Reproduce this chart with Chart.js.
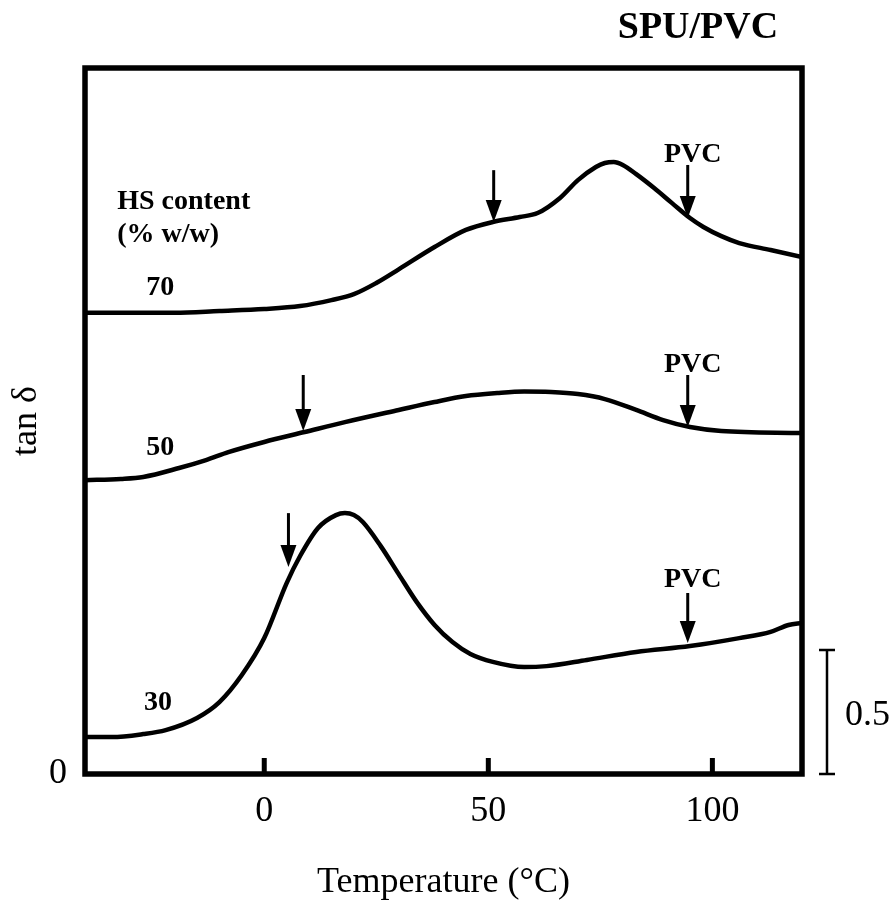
<!DOCTYPE html>
<html>
<head>
<meta charset="utf-8">
<script src="https://cdn.jsdelivr.net/npm/chart.js@4.4.1/dist/chart.umd.min.js"></script>
<style>
  html, body { margin: 0; padding: 0; background: #fff; }
</style>
</head>
<body>
<canvas id="c" width="890" height="904"></canvas>
<script>
// HS content 70 % w/w
const temps70 = [-40, -20, -10, 0, 8, 15, 20, 25, 30, 38, 45, 51, 57, 61, 66, 70, 74, 76, 78, 80, 83, 87, 91, 95, 98, 102, 106, 113, 120];
const tan70 = [1.86, 1.86, 1.867, 1.875, 1.887, 1.911, 1.935, 1.98, 2.035, 2.125, 2.194, 2.226, 2.246, 2.262, 2.323, 2.395, 2.448, 2.464, 2.468, 2.456, 2.419, 2.363, 2.302, 2.242, 2.206, 2.169, 2.141, 2.113, 2.085];

// HS content 50 % w/w
const temps50 = [-40, -32, -27, -19, -13, -8, 0, 9, 18, 30, 38, 45, 52, 58, 64, 70, 76, 83, 89, 95, 102, 120];
const tan50 = [1.185, 1.19, 1.198, 1.234, 1.266, 1.298, 1.339, 1.379, 1.419, 1.468, 1.5, 1.524, 1.536, 1.542, 1.54, 1.532, 1.512, 1.468, 1.427, 1.399, 1.383, 1.375];

// HS content 30 % w/w
const temps30 = [-40, -34, -27, -22, -15, -10, -5, 0, 5, 8, 12, 16, 18, 20, 22, 26, 30, 34, 38, 42, 46, 51, 58, 63, 72, 83, 95, 106, 113, 117, 120];
const tan30 = [0.149, 0.149, 0.161, 0.177, 0.226, 0.29, 0.399, 0.548, 0.77, 0.879, 0.992, 1.044, 1.052, 1.044, 1.016, 0.919, 0.806, 0.694, 0.601, 0.532, 0.484, 0.452, 0.431, 0.435, 0.46, 0.492, 0.516, 0.548, 0.573, 0.601, 0.609];

const xTickValues = [0, 50, 100];
const yTickValues = [0];

// transition arrows: temperature, top of shaft, tip (on the curve)
const arrowTemps = [51.2, 94.5, 8.7, 94.5, 5.4, 94.5];
const arrowTops = [2.435, 2.456, 1.609, 1.609, 1.052, 0.73];
const arrowTips = [2.226, 2.242, 1.383, 1.399, 0.835, 0.528];

// text labels inside the plot
const curveLabels = ['70', '50', '30', 'PVC', 'PVC', 'PVC'];
const curveLabelTemps = [-23.2, -23.2, -23.7, 95.6, 95.6, 95.6];
const curveLabelValues = [1.96, 1.315, 0.286, 2.496, 1.649, 0.782];
const legendLines = ['HS content', '(% w/w)'];
const legendTemp = -32.8;
const legendValues = [2.306, 2.173];

const scaleBarValues = [0, 0.5];
const scaleBarText = '0.5';
const panelTitle = 'SPU/PVC';

const serif = '"Liberation Serif", "Times New Roman", serif';
Chart.defaults.font.family = serif;
Chart.defaults.color = '#000';

function pts(xs, ys) {
    return xs.map((t, i) => ({ x: t, y: ys[i] }));
}

function curve(label, xs, ys) {
    return {
        label: label,
        data: pts(xs, ys),
        borderColor: '#000',
        borderWidth: 4.5,
        pointRadius: 0,
        fill: false,
        cubicInterpolationMode: 'monotone'
    };
}

const decor = {
    id: 'decor',
    afterDatasetsDraw(chart) {
        const ctx = chart.ctx;
        const a = chart.chartArea;
        const x = chart.scales.x;
        const y = chart.scales.y;
        ctx.save();
        ctx.strokeStyle = '#000';
        ctx.fillStyle = '#000';

        // heavy frame
        ctx.lineWidth = 5.5;
        ctx.strokeRect(a.left, a.top, a.right - a.left, a.bottom - a.top);

        // inward ticks on the temperature axis
        ctx.lineWidth = 5;
        xTickValues.forEach(v => {
            const px = x.getPixelForValue(v);
            ctx.beginPath();
            ctx.moveTo(px, a.bottom);
            ctx.lineTo(px, a.bottom - 16);
            ctx.stroke();
        });

        // arrows
        arrowTemps.forEach((t, i) => {
            const px = x.getPixelForValue(t);
            const y0 = y.getPixelForValue(arrowTops[i]);
            const y1 = y.getPixelForValue(arrowTips[i]);
            ctx.lineWidth = 3;
            ctx.beginPath();
            ctx.moveTo(px, y0);
            ctx.lineTo(px, y1 - 18);
            ctx.stroke();
            ctx.beginPath();
            ctx.moveTo(px - 8, y1 - 22);
            ctx.lineTo(px + 8, y1 - 22);
            ctx.lineTo(px, y1);
            ctx.closePath();
            ctx.fill();
        });

        // labels
        ctx.textBaseline = 'middle';
        ctx.font = 'bold 28px ' + serif;
        ctx.textAlign = 'left';
        legendLines.forEach((s, i) => {
            ctx.fillText(s, x.getPixelForValue(legendTemp), y.getPixelForValue(legendValues[i]));
        });
        ctx.textAlign = 'center';
        curveLabels.forEach((s, i) => {
            ctx.fillText(s, x.getPixelForValue(curveLabelTemps[i]), y.getPixelForValue(curveLabelValues[i]));
        });

        // 0.5 scale bar
        const bx = a.right + 25;
        const b0 = y.getPixelForValue(scaleBarValues[0]);
        const b1 = y.getPixelForValue(scaleBarValues[1]);
        ctx.lineWidth = 2.5;
        ctx.beginPath();
        ctx.moveTo(bx, b0); ctx.lineTo(bx, b1);
        ctx.moveTo(bx - 8, b0); ctx.lineTo(bx + 8, b0);
        ctx.moveTo(bx - 8, b1); ctx.lineTo(bx + 8, b1);
        ctx.stroke();
        ctx.font = '36px ' + serif;
        ctx.textAlign = 'left';
        ctx.fillText(scaleBarText, bx + 18, (b0 + b1) / 2 + 4);

        // panel title
        ctx.font = 'bold 38px ' + serif;
        ctx.textAlign = 'center';
        ctx.fillText(panelTitle, a.right - 104, a.top - 40);
        ctx.restore();
    }
};

new Chart(document.getElementById('c'), {
    type: 'line',
    data: {
        datasets: [
            curve('70', temps70, tan70),
            curve('50', temps50, tan50),
            curve('30', temps30, tan30)
        ]
    },
    options: {
        responsive: false,
        animation: false,
        layout: { padding: { left: 0, right: 88, top: 68, bottom: 0 } },
        plugins: {
            legend: { display: false },
            tooltip: { enabled: false }
        },
        scales: {
            x: {
                type: 'linear',
                min: -40,
                max: 120,
                afterBuildTicks: s => { s.ticks = xTickValues.map(v => ({ value: v })); },
                afterFit: s => { s.height = 130; },
                grid: { display: false, drawTicks: false },
                border: { display: false },
                ticks: { font: { size: 36 }, padding: 16 },
                title: { display: true, text: 'Temperature (°C)', font: { size: 36 }, padding: { top: 0, bottom: 0 } }
            },
            y: {
                type: 'linear',
                min: 0,
                max: 2.847,
                afterBuildTicks: s => { s.ticks = yTickValues.map(v => ({ value: v })); },
                afterFit: s => { s.width = 85; },
                grid: { display: false, drawTicks: false },
                border: { display: false },
                ticks: { font: { size: 36 }, padding: 18 },
                title: { display: true, text: 'tan δ', font: { size: 36 }, padding: { top: 5, bottom: 0 } }
            }
        }
    },
    plugins: [decor]
});
</script>
</body>
</html>
